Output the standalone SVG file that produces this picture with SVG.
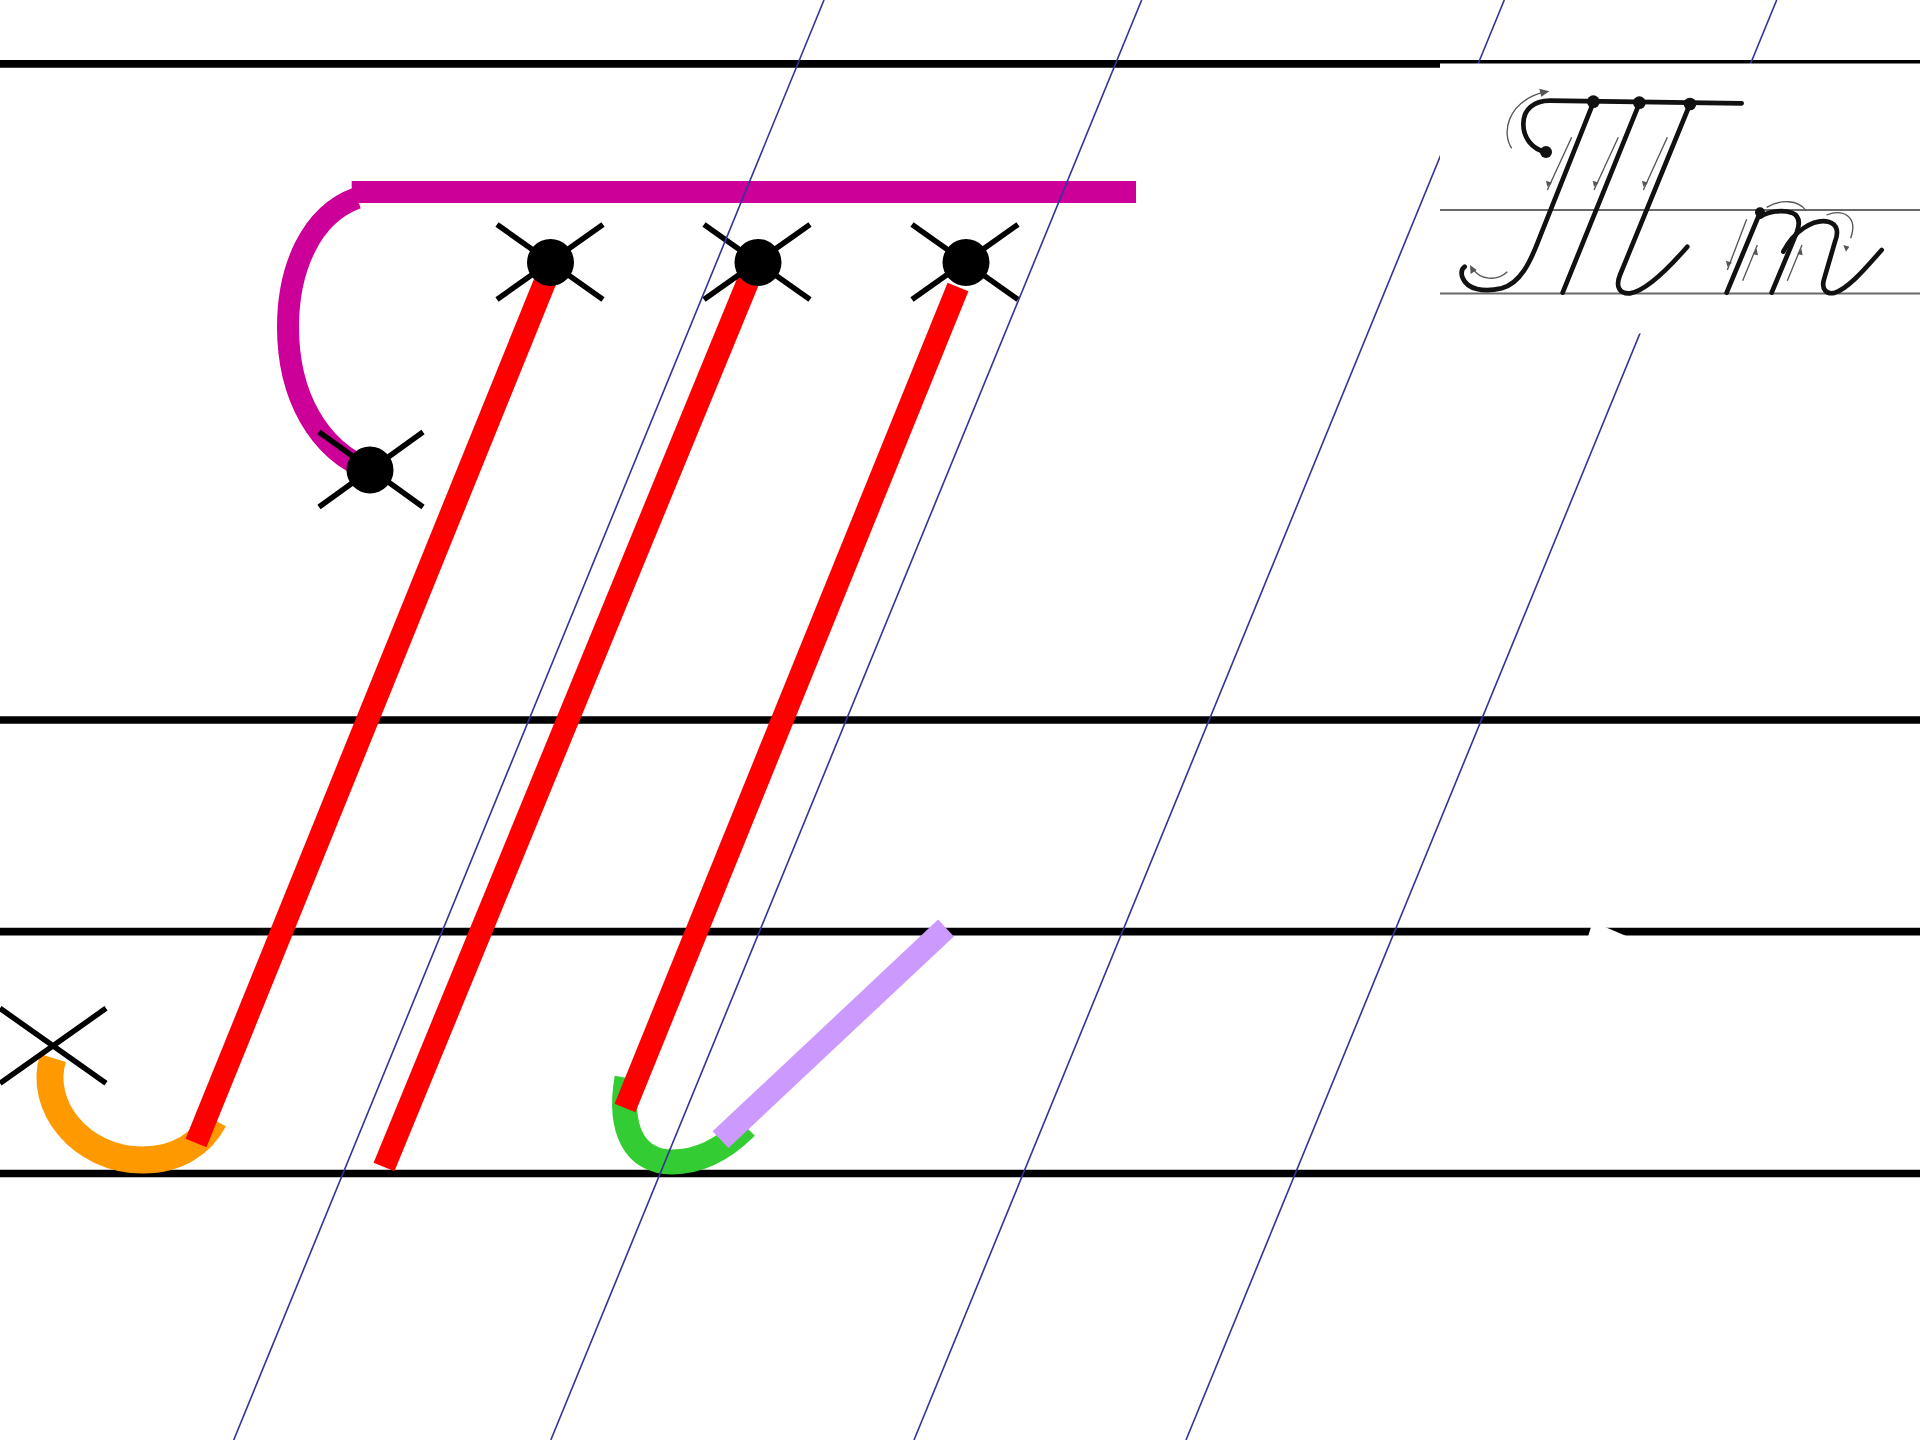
<svg xmlns="http://www.w3.org/2000/svg" width="1920" height="1440" viewBox="0 0 1920 1440">
<defs>
<style>
.rule{stroke:#000;stroke-width:7.7}
.slant{stroke:#333399;stroke-width:1.6}
.xm{stroke:#000;stroke-width:5.5;fill:none}
.dot{fill:#000}
.st{fill:none;stroke-linecap:butt}
.mag{stroke:#CC0099;stroke-width:22}
.red{stroke:#FF0000;stroke-width:22.5}
.org{stroke:#FF9900;stroke-width:27}
.grn{stroke:#33CC33;stroke-width:25}
.lil{stroke:#CC99FF;stroke-width:23}
.ink{fill:none;stroke:#111;stroke-width:14;stroke-linecap:round;stroke-linejoin:round}
.thin{fill:none;stroke:#555;stroke-width:4}
.tip{fill:#555}
</style>
</defs>
<rect width="1920" height="1440" fill="#fff"/>
<g id="rules">
<line class="rule" x1="0" y1="63.8" x2="1920" y2="63.8"/>
<line class="rule" x1="0" y1="720" x2="1920" y2="720"/>
<line class="rule" x1="0" y1="931.7" x2="1920" y2="931.7"/>
<line class="rule" x1="0" y1="1173.5" x2="1920" y2="1173.5"/>
</g>
<g id="strokes">
<g id="top-bar"><line class="st mag" x1="351.7" y1="192" x2="1136" y2="192"/></g>
<g id="top-hook"><path class="st mag" d="M357,198 C310,215 288,270 288,327 C288,395 318,450 370,470"/></g>
<g id="orange-curl"><path class="st org" d="M53,1058 C38,1105 80,1160 143,1160 C178,1160 202,1143 214,1120"/></g>
<g id="green-curl"><path class="st grn" d="M627,1078 C618,1130 635,1162 672,1162 C700,1162 725,1148 746,1127"/></g>
<g id="stem-1"><line class="st red" x1="553" y1="262" x2="196" y2="1143"/></g>
<g id="stem-2"><line class="st red" x1="756" y1="262" x2="384" y2="1167"/></g>
<g id="stem-3"><line class="st red" x1="958" y1="287" x2="625" y2="1108"/></g>
<g id="lilac-tail"><line class="st lil" x1="720.5" y1="1139.7" x2="946" y2="928"/></g>
</g>
<g id="marks">
<g id="mark-start"><path class="xm" d="M0,1008.3 L106,1083.3 M0,1083.3 L106,1008.3"/></g>
<g id="mark-hook"><path class="xm" d="M319,432 L423,507 M319,507 L423,432"/><circle class="dot" cx="370" cy="470" r="23.5"/></g>
<g id="mark-1"><path class="xm" d="M497,224.5 L603,299.5 M497,299.5 L603,224.5"/><circle class="dot" cx="550.5" cy="262.5" r="23.5"/></g>
<g id="mark-2"><path class="xm" d="M704,224.5 L810,299.5 M704,299.5 L810,224.5"/><circle class="dot" cx="758" cy="262.5" r="23.5"/></g>
<g id="mark-3"><path class="xm" d="M912,224.5 L1018,299.5 M912,299.5 L1018,224.5"/><circle class="dot" cx="966" cy="262.5" r="23.5"/></g>
</g>
<g id="slants">
<line class="slant" x1="824" y1="0" x2="233.7" y2="1440"/>
<line class="slant" x1="1141.7" y1="0" x2="550.8" y2="1440"/>
<line class="slant" x1="1504.3" y1="0" x2="914" y2="1440"/>
<line class="slant" x1="1776.7" y1="0" x2="1186" y2="1440"/>
</g>
<polygon id="notch" points="1591,927 1605,927 1627.5,936.5 1588,936.5" fill="#fff"/>
<g id="sample">
<rect x="1440" y="63.5" width="480" height="270" fill="#fff"/>
<line x1="1440" y1="210" x2="1920" y2="210" stroke="#6a6a6a" stroke-width="2"/>
<line x1="1440" y1="293.5" x2="1920" y2="293.5" stroke="#6a6a6a" stroke-width="2"/>
<g transform="translate(1430 50) scale(0.33333)">
<path class="ink" d="M935,160 L360,152 C310,152 280,180 280,222 C280,262 305,298 348,306"/>
<path class="ink" d="M490,158 L330,560 C300,640 270,700 215,715 C160,728 112,718 98,684 C92,668 96,656 104,650"/>
<path class="ink" d="M628,160 L398,728"/>
<path class="ink" d="M780,162 L570,675 C555,712 570,732 600,730 C650,722 720,650 772,590"/>
<path class="ink" d="M990,488 L890,728"/>
<path class="ink" d="M992,500 C1015,485 1055,478 1085,488 C1110,498 1110,522 1100,548 L1025,728"/>
<path class="ink" d="M1060,605 C1090,545 1150,505 1195,515 C1225,523 1225,550 1215,575 L1182,688 C1173,718 1190,735 1215,728 C1260,712 1310,650 1355,600"/>
<circle fill="#111" cx="490" cy="155" r="19"/>
<circle fill="#111" cx="628" cy="158" r="19"/>
<circle fill="#111" cx="780" cy="162" r="19"/>
<circle fill="#111" cx="348" cy="306" r="18"/>
<circle fill="#111" cx="990" cy="487" r="15"/>
<path class="thin" d="M245,295 C215,250 230,160 335,128"/>
<polygon class="tip" points="358,124 328,116 334,140"/>
<path class="thin" d="M128,655 C150,690 200,695 232,665"/>
<polygon class="tip" points="120,645 122,672 140,660"/>
<path class="thin" d="M425,262 L352,420"/>
<polygon class="tip" points="352,410 348,392 366,398"/>
<path class="thin" d="M565,262 L492,420"/>
<polygon class="tip" points="492,410 488,392 506,398"/>
<path class="thin" d="M712,262 L640,420"/>
<polygon class="tip" points="640,410 636,392 654,398"/>
<path class="thin" d="M950,508 L892,660"/>
<polygon class="tip" points="892,650 888,632 906,638"/>
<path class="thin" d="M938,692 L982,585"/>
<polygon class="tip" points="980,596 968,612 984,616"/>
<path class="thin" d="M1072,692 L1116,585"/>
<polygon class="tip" points="1114,596 1102,612 1118,616"/>
<path class="thin" d="M1010,472 C1050,448 1105,448 1128,482"/>
<path class="thin" d="M1190,495 C1240,475 1285,500 1262,565"/>
<polygon class="tip" points="1248,605 1240,585 1258,590"/>
</g>
</g>
</svg>
